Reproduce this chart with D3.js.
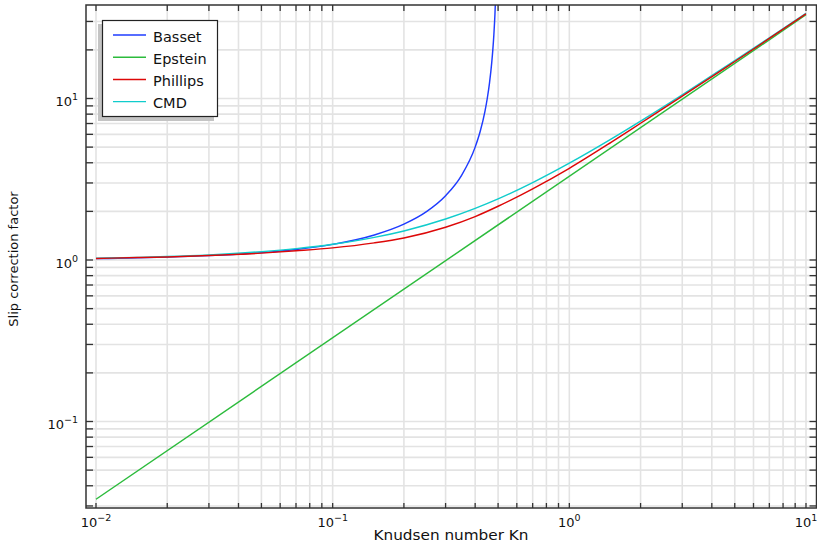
<!DOCTYPE html>
<html>
<head>
<meta charset="utf-8">
<script src="https://cdn.jsdelivr.net/npm/d3@7"></script>
<style>
  html, body { margin: 0; padding: 0; background: #fff; }
  svg { display: block; font-family: "DejaVu Sans", Verdana, sans-serif; }
</style>
</head>
<body>
<svg id="chart" width="817" height="546"></svg>
<script>
// ---- data ----
const knudsen = [0.01, 0.015, 0.02, 0.03, 0.05, 0.07, 0.1, 0.15, 0.2, 0.3, 0.4, 0.5, 0.7, 1, 1.5, 2, 3, 5, 7, 10];
const cmdValues = [1.025, 1.038, 1.050, 1.075, 1.126, 1.176, 1.252, 1.380, 1.513, 1.793, 2.087, 2.390, 3.015, 3.976, 5.603, 7.243, 10.54, 17.15, 23.78, 33.71];
const phillipsValues = [1.023, 1.035, 1.045, 1.065, 1.103, 1.141, 1.189, 1.277, 1.369, 1.595, 1.857, 2.151, 2.759, 3.697, 5.350, 7.026, 10.33, 16.95, 23.54, 33.44];
const epsteinKn = [0.01, 10];
const epsteinValues = [0.033, 33.0];
const bassetKn = [0.01, 0.015, 0.02, 0.03, 0.05, 0.07, 0.1, 0.15, 0.2, 0.25, 0.3, 0.35, 0.4, 0.42, 0.44, 0.45, 0.46, 0.47, 0.475, 0.48, 0.485, 0.49];
const bassetValues = [1.020, 1.031, 1.042, 1.064, 1.111, 1.163, 1.250, 1.429, 1.667, 2.0, 2.5, 3.333, 5.0, 6.25, 8.333, 10.0, 12.5, 16.67, 20.0, 25.0, 33.33, 50.0];
const seriesNames = ["Basset", "Epstein", "Phillips", "CMD"];
const seriesColors = ["#1f3cff", "#2cbb3c", "#dd0808", "#10cccc"];
const xMajorTicks = [0.01, 0.1, 1, 10];
const xTickExponents = ["-2", "-1", "0", "1"];
const yMajorTicks = [0.1, 1, 10];
const yTickExponents = ["-1", "0", "1"];
const xTitle = "Knudsen number Kn";
const yTitle = "Slip correction factor";

// ---- layout ----
const svg = d3.select("#chart");
const L = 86, R = 816.5, T = 5, B = 508;
const x = d3.scaleLog().domain([0.01, 10]).range([96, 806]);
const y = d3.scaleLog().domain([0.1, 10]).range([421.5, 98.5]);

const xMin = x.invert(L), xMax = x.invert(R);
const yMin = y.invert(B), yMax = y.invert(T);

function minorTicks(lo, hi) {
  const out = [];
  for (let e = Math.floor(Math.log10(lo)); e <= Math.ceil(Math.log10(hi)); e++) {
    for (let m = 1; m <= 9; m++) {
      const v = m * Math.pow(10, e);
      if (v >= lo * 1.0001 && v <= hi * 0.9999) out.push(v);
    }
  }
  return out;
}
const xTicksAll = minorTicks(xMin, xMax);
const yTicksAll = minorTicks(yMin, yMax);

svg.append("defs").append("clipPath").attr("id", "clip")
  .append("rect").attr("x", L).attr("y", T).attr("width", R - L).attr("height", B - T);

// grid
const grid = svg.append("g").attr("stroke", "#e3e3e3").attr("stroke-width", 1.6);
grid.selectAll("line.gx").data(xTicksAll).join("line")
  .attr("x1", d => x(d)).attr("x2", d => x(d)).attr("y1", T).attr("y2", B);
grid.selectAll("line.gy").data(yTicksAll).join("line")
  .attr("y1", d => y(d)).attr("y2", d => y(d)).attr("x1", L).attr("x2", R);

// curves
const plot = svg.append("g").attr("clip-path", "url(#clip)");
const line = d3.line().x(d => x(d[0])).y(d => y(d[1])).curve(d3.curveMonotoneX);
const seriesData = [
  d3.zip(bassetKn, bassetValues),
  d3.zip(epsteinKn, epsteinValues),
  d3.zip(knudsen, phillipsValues),
  d3.zip(knudsen, cmdValues)
];
const drawOrder = [1, 0, 3, 2];
drawOrder.forEach(i => {
  plot.append("path").datum(seriesData[i])
    .attr("fill", "none").attr("stroke", seriesColors[i]).attr("stroke-width", 1.45)
    .attr("d", line);
});

// ticks
const tk = svg.append("g").attr("stroke", "#333").attr("stroke-width", 1.3);
tk.selectAll("line.bt").data(xTicksAll).join("line")
  .attr("x1", d => x(d)).attr("x2", d => x(d)).attr("y1", B).attr("y2", B - 5);
tk.selectAll("line.tt").data(xTicksAll).join("line")
  .attr("x1", d => x(d)).attr("x2", d => x(d)).attr("y1", T).attr("y2", T + 6);
tk.selectAll("line.lt").data(yTicksAll).join("line")
  .attr("y1", d => y(d)).attr("y2", d => y(d)).attr("x1", L).attr("x2", L + 7);
tk.selectAll("line.rt").data(yTicksAll).join("line")
  .attr("y1", d => y(d)).attr("y2", d => y(d)).attr("x1", R).attr("x2", R - 7);

// frame
svg.append("rect").attr("x", L).attr("y", T).attr("width", R - L).attr("height", B - T)
  .attr("fill", "none").attr("stroke", "#333").attr("stroke-width", 1.5);

// tick labels
const xl = svg.append("g").attr("font-size", 13).attr("fill", "#111");
xMajorTicks.forEach((v, i) => {
  const t = xl.append("text").attr("x", x(v)).attr("y", 527).attr("text-anchor", "middle");
  t.append("tspan").text("10");
  t.append("tspan").attr("dy", -6).attr("font-size", 9.5).text(xTickExponents[i].replace("-", "\u2212"));
});
const yl = svg.append("g").attr("font-size", 13).attr("fill", "#111");
yMajorTicks.forEach((v, i) => {
  const t = yl.append("text").attr("x", 78).attr("y", y(v) + 7.5).attr("text-anchor", "end");
  t.append("tspan").text("10");
  t.append("tspan").attr("dy", -6).attr("font-size", 9.5).text(yTickExponents[i].replace("-", "\u2212"));
});

// axis titles
svg.append("text").attr("x", 451).attr("y", 540).attr("text-anchor", "middle")
  .attr("font-size", 13.5).attr("fill", "#111")
  .attr("textLength", 155).attr("lengthAdjust", "spacingAndGlyphs").text(xTitle);
svg.append("text").attr("transform", "translate(18,259) rotate(-90)").attr("text-anchor", "middle")
  .attr("font-size", 13).attr("fill", "#111").text(yTitle);

// legend
const lg = svg.append("g");
lg.append("rect").attr("x", 98).attr("y", 24).attr("width", 116).attr("height", 97).attr("fill", "#c4c4c4");
lg.append("rect").attr("x", 102.5).attr("y", 20.5).attr("width", 115).attr("height", 96)
  .attr("fill", "#fff").attr("stroke", "#222").attr("stroke-width", 1.2);
const legendY = [35, 57.2, 79.4, 101.6];
seriesNames.forEach((name, i) => {
  lg.append("line").attr("x1", 113).attr("x2", 146).attr("y1", legendY[i]).attr("y2", legendY[i])
    .attr("stroke", seriesColors[i]).attr("stroke-width", 1.45);
  lg.append("text").attr("x", 153).attr("y", legendY[i] + 6.5).attr("font-size", 14.5)
    .attr("fill", "#111").text(name);
});
</script>
</body>
</html>
